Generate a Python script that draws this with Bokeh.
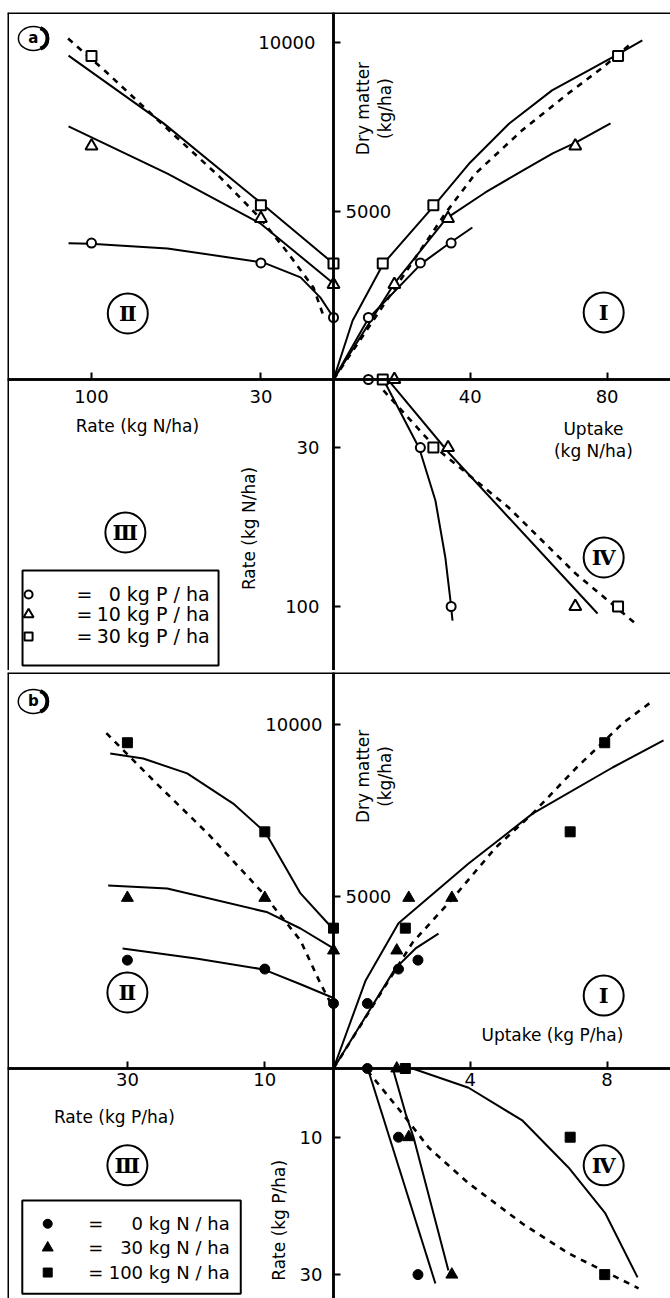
import math
from bokeh.plotting import figure
from bokeh.models import Range1d, LinearAxis, FixedTicker, Span
from bokeh.layouts import column
from bokeh.core.properties import value
from bokeh.embed import file_html
from bokeh.resources import INLINE

FONT = "DejaVu Sans"
SERIF = "DejaVu Serif"

# ---------------- (a) nitrogen rates, three P levels ----------------
N_RATE = [0, 30, 100]
A_DM_P0 = [1840, 3460, 4050]
A_DM_P10 = [2820, 4780, 6930]
A_DM_P30 = [3440, 5170, 9600]
A_UPT_P0 = [10.2, 25.4, 34.4]
A_UPT_P10 = [17.8, 33.5, 70.7]
A_UPT_P30 = [14.4, 29.2, 83.2]

# fitted response curves, quadrant II (rate -> dry matter)
A_II_P0_RATE = [0, 5.4, 13.6, 28.9, 68.6, 100.4, 109.5]
A_II_P0_DM = [1840, 2430, 3030, 3470, 3890, 4030, 4040]
A_II_P10_RATE = [0, 30.2, 68.6, 109.5]
A_II_P10_DM = [2850, 4630, 6110, 7510]
A_II_P30_RATE = [0, 30.2, 70.2, 109.5]
A_II_P30_DM = [3440, 5250, 7600, 9610]
A_II_ALL_RATE = [4.5, 8.3, 19.0, 30.2, 46.7, 70.2, 94.6, 110.7]
A_II_ALL_DM = [1960, 2730, 3770, 4780, 5990, 7540, 9170, 10180]

# quadrant I (uptake -> dry matter)
A_I_P0_UPT = [0, 10.2, 25.7, 34.2, 40.6]
A_I_P0_DM = [0, 1810, 3440, 4065, 4510]
A_I_P10_UPT = [0, 17.8, 33.0, 44.4, 55.3, 64.1, 70.8, 81.0]
A_I_P10_DM = [0, 2850, 4780, 5550, 6200, 6710, 7030, 7600]
A_I_P30_UPT = [0, 5.6, 14.6, 28.9, 39.6, 51.3, 63.9, 74.6, 83.0, 90.3]
A_I_P30_DM = [0, 1750, 3440, 5100, 6400, 7590, 8580, 9170, 9640, 10060]
A_I_ALL_UPT = [0, 24.0, 32.7, 41.5, 55.2, 68.8, 78.6, 86.8]
A_I_ALL_DM = [0, 3620, 4930, 6110, 7400, 8500, 9250, 9950]

# quadrant IV (uptake -> rate)
A_IV_P0_UPT = [15.2, 25.1, 29.8, 32.7, 34.2, 34.8]
A_IV_P0_RATE = [1.8, 30.4, 53.3, 78.4, 97.4, 106.2]
A_IV_P10_UPT = [16.1, 33.9, 77.2]
A_IV_P10_RATE = [0.4, 32.6, 103.1]
A_IV_ALL_UPT = [14.6, 29.8, 51.2, 70.8, 88.3]
A_IV_ALL_RATE = [4.8, 30.0, 56.4, 85.5, 107.5]

A_LEGEND = ["0 kg P / ha", "10 kg P / ha", "30 kg P / ha"]

# ---------------- (b) phosphorus rates, three N levels ----------------
P_RATE = [0, 10, 30]
B_DM_N0 = [1890, 2890, 3150]
B_DM_N30 = [3430, 4960, 4960]
B_DM_N100 = [4080, 6880, 9470]
B_UPT_N0 = [0.99, 1.9, 2.47]
B_UPT_N30 = [1.85, 2.2, 3.46]
B_UPT_N100 = [2.1, 6.92, 7.93]

B_II_N0_RATE = [0, 4.8, 10.2, 20.0, 30.7]
B_II_N0_DM = [2050, 2450, 2880, 3200, 3490]
B_II_N30_RATE = [0, 4.8, 9.6, 24.2, 32.8]
B_II_N30_DM = [3490, 4070, 4540, 5230, 5320]
B_II_N100_RATE = [0, 4.8, 9.9, 14.6, 21.3, 27.7, 32.5]
B_II_N100_DM = [4040, 5090, 6860, 7700, 8580, 9010, 9160]
B_II_ALL_RATE = [0.4, 1.9, 4.8, 10.6, 18.3, 26.2, 33.6]
B_II_ALL_DM = [1900, 2470, 3720, 5170, 6830, 8370, 9860]

B_I_LOW_UPT = [0, 1.81, 2.40, 3.07]
B_I_LOW_DM = [0, 2910, 3490, 3920]
B_I_N100_UPT = [0, 0.94, 1.90, 3.95, 5.82, 8.16, 9.65]
B_I_N100_DM = [0, 2560, 4220, 5960, 7410, 8750, 9540]
B_I_ALL_UPT = [0, 2.31, 3.48, 4.74, 5.82, 7.08, 8.45, 9.27]
B_I_ALL_DM = [0, 3660, 4940, 6420, 7410, 8720, 10030, 10640]

B_IV_N0_UPT = [1.02, 2.98]
B_IV_N0_RATE = [0.3, 31.3]
B_IV_N30_UPT = [1.75, 2.11, 2.34, 3.36]
B_IV_N30_RATE = [0.3, 6.6, 10.0, 29.4]
B_IV_N100_UPT = [2.31, 3.95, 5.53, 6.87, 7.95, 8.89]
B_IV_N100_RATE = [0, 2.8, 7.6, 14.4, 21.1, 30.4]
B_IV_ALL_UPT = [0.99, 2.02, 2.78, 3.95, 5.53, 6.87, 8.92]
B_IV_ALL_RATE = [0.3, 6.6, 11.5, 16.7, 22.6, 26.9, 32.0]

B_LEGEND = ["0 kg N / ha", "30 kg N / ha", "100 kg N / ha"]


def make_panel(height, top, bottom, ox, oy, upt_px, dm_px, rx_px, ry_px):
    """Four-quadrant frame: uptake (x) / dry matter (y) share the origin
    with rate (x, reversed) and rate (y, downward)."""
    left, right = 7, 670
    p = figure(width=670, height=height, output_backend="svg", toolbar_location=None,
               x_axis_type=None, y_axis_type=None,
               x_range=Range1d((left - ox) / upt_px, (right - ox) / upt_px),
               y_range=Range1d((oy - bottom) / dm_px, (oy - top) / dm_px),
               min_border_left=left, min_border_right=0,
               min_border_top=top, min_border_bottom=height - bottom)
    p.extra_x_ranges = {"rate": Range1d((ox - left) / rx_px, (ox - right) / rx_px)}
    p.extra_y_ranges = {"ratey": Range1d((bottom - oy) / ry_px, (top - oy) / ry_px)}
    p.title.visible = False
    p.outline_line_color = None
    p.background_fill_color = "white"
    p.border_fill_color = "white"
    return p


def axes(p, rate_ticks, upt_ticks, dm_left, dm_right, ratey_ticks, x_standoff, dm_standoff, ry_standoff):
    common = dict(fixed_location=0, axis_line_width=2.5, axis_line_color="black",
                  major_tick_line_width=2, major_tick_line_color="black",
                  minor_tick_in=0, minor_tick_out=0,
                  major_label_text_font=FONT, major_label_text_font_size="18px",
                  major_label_text_color="black")
    p.add_layout(LinearAxis(x_range_name="rate", ticker=FixedTicker(ticks=rate_ticks),
                            major_tick_in=7, major_tick_out=0,
                            major_label_standoff=x_standoff, **common), "below")
    p.add_layout(LinearAxis(ticker=FixedTicker(ticks=upt_ticks),
                            major_tick_in=7, major_tick_out=0,
                            major_label_standoff=x_standoff, **common), "below")
    p.add_layout(LinearAxis(ticker=FixedTicker(ticks=dm_left),
                            major_tick_in=7, major_tick_out=0,
                            major_label_standoff=dm_standoff, **common), "left")
    right_kw = dict(common)
    right_kw["axis_line_color"] = None
    p.add_layout(LinearAxis(ticker=FixedTicker(ticks=dm_right),
                            major_tick_in=0, major_tick_out=7,
                            major_label_standoff=5, **right_kw), "right")
    p.add_layout(LinearAxis(y_range_name="ratey", ticker=FixedTicker(ticks=ratey_ticks),
                            major_tick_in=7, major_tick_out=0,
                            major_label_standoff=ry_standoff, **common), "left")


def borders(p):
    xr = p.extra_x_ranges["rate"]
    p.add_layout(Span(location=xr.start, dimension="height", x_range_name="rate",
                      line_color="black", line_width=3))
    p.add_layout(Span(location=p.y_range.end, dimension="width",
                      line_color="black", line_width=3))


def curve(p, xs, ys, xr, yr, dashed=False):
    if dashed:
        p.line(xs, ys, x_range_name=xr, y_range_name=yr, line_color="black",
               line_width=2.6, line_dash="6 6")
    else:
        p.line(xs, ys, x_range_name=xr, y_range_name=yr, line_color="black", line_width=2)


def marks(p, xs, ys, xr, yr, marker, size, filled):
    p.scatter(xs, ys, x_range_name=xr, y_range_name=yr, marker=marker, size=size,
              line_color="black", line_width=1 if filled else 2,
              fill_color="black" if filled else "white")


def quadrant_tag(p, x, y, txt, xr, yr):
    p.scatter([x], [y], x_range_name=xr, y_range_name=yr, marker="circle", size=40,
              fill_color=None, line_color="black", line_width=2)
    p.text([x], [y], text=[txt], x_range_name=xr, y_range_name=yr,
           text_font=value(SERIF), text_font_size="21px", text_font_style="bold",
           text_align="center", text_baseline="middle", text_color="black")


def label(p, x, y, txt, xr, yr, size="17px", angle=0.0, align="center"):
    p.text([x], [y], text=[txt], x_range_name=xr, y_range_name=yr,
           text_font=value(FONT), text_font_size=size, angle=angle,
           text_align=align, text_baseline="middle", text_color="black")


def panel_letter(p, x, y, dx, txt):
    p.ellipse([x], [y], width=30, height=24, width_units="screen", height_units="screen",
              x_range_name="rate", fill_color=None, line_color="black", line_width=1.5)
    p.arc([x - dx], [y], radius=11, radius_units="screen", start_angle=-1.2, end_angle=1.2,
          x_range_name="rate", line_color="black", line_width=4)
    p.text([x], [y], text=[txt], x_range_name="rate", text_font=value(FONT),
           text_font_size="15px", text_font_style="bold", text_align="center",
           text_baseline="middle", text_color="black")


def legend_box(p, box, mark_x, eq_x, text_right, rows, markers, sizes, texts, filled, fs):
    """Key in quadrant III: marker, '=' sign, right-aligned level."""
    l, r, t, b = box
    p.quad(left=[l], right=[r], top=[t], bottom=[b], x_range_name="rate", y_range_name="ratey",
           fill_color="white", line_color="black", line_width=2)
    for row, mk, sz, txt in zip(rows, markers, sizes, texts):
        marks(p, [mark_x], [row], "rate", "ratey", mk, sz, filled)
        label(p, eq_x, row, "=", "rate", "ratey", size=fs, align="left")
        label(p, text_right, row, txt, "rate", "ratey", size=fs, align="right")


# ======================= panel (a) =======================
pa = make_panel(670, 12, 670, 333, 379, 3.42, 0.0337, 2.42, 2.27)
borders(pa)
axes(pa, [30, 100], [40, 80], [10000], [5000], [30, 100], 10, 18, 14)

D, R, RY = "default", "rate", "ratey"
# quadrant II
curve(pa, A_II_P0_RATE, A_II_P0_DM, R, D)
curve(pa, A_II_P10_RATE, A_II_P10_DM, R, D)
curve(pa, A_II_P30_RATE, A_II_P30_DM, R, D)
curve(pa, A_II_ALL_RATE, A_II_ALL_DM, R, D, dashed=True)
# quadrant I
curve(pa, A_I_P0_UPT, A_I_P0_DM, D, D)
curve(pa, A_I_P10_UPT, A_I_P10_DM, D, D)
curve(pa, A_I_P30_UPT, A_I_P30_DM, D, D)
curve(pa, A_I_ALL_UPT, A_I_ALL_DM, D, D, dashed=True)
# quadrant IV
curve(pa, A_IV_P0_UPT, A_IV_P0_RATE, D, RY)
curve(pa, A_IV_P10_UPT, A_IV_P10_RATE, D, RY)
curve(pa, A_IV_ALL_UPT, A_IV_ALL_RATE, D, RY, dashed=True)

for dm, upt, mk, sz in [(A_DM_P0, A_UPT_P0, "circle", 9),
                        (A_DM_P10, A_UPT_P10, "triangle", 12),
                        (A_DM_P30, A_UPT_P30, "square", 10)]:
    marks(pa, N_RATE, dm, R, D, mk, sz, False)
    marks(pa, upt, dm, D, D, mk, sz, False)
    marks(pa, upt, N_RATE, D, RY, mk, sz, False)

quadrant_tag(pa, 79, 1990, "Ⅰ", D, D)
quadrant_tag(pa, 85, 1960, "Ⅱ", R, D)
quadrant_tag(pa, 86, 67.4, "Ⅲ", R, RY)
quadrant_tag(pa, 79, 78.4, "Ⅳ", D, RY)
panel_letter(pa, 124, 10120, 1.24, "a")

label(pa, 81, 20.3, "Rate (kg N/ha)", R, RY)
label(pa, 35.1, 65.6, "Rate (kg N/ha)", R, RY, angle=math.pi / 2)
label(pa, 8.5, 8040, "Dry matter", D, D, angle=math.pi / 2)
label(pa, 15.2, 8040, "(kg/ha)", D, D, angle=math.pi / 2)
label(pa, 76, 22, "Uptake", D, RY)
label(pa, 76, 31.3, "(kg N/ha)", D, RY)

legend_box(pa, (128.5, 47.5, 84.1, 126.0), 126, 106.2, 51.2,
           [94.7, 103.5, 113.2], ["circle", "triangle", "square"], [8, 10, 8], A_LEGEND, False,
           "19px")

# ======================= panel (b) =======================
pb = make_panel(628, 2, 628, 333, 398, 34.2, 0.0344, 6.87, 6.87)
borders(pb)
axes(pb, [10, 30], [4, 8], [10000], [5000], [10, 30], 4, 11, 11)

curve(pb, B_II_N0_RATE, B_II_N0_DM, R, D)
curve(pb, B_II_N30_RATE, B_II_N30_DM, R, D)
curve(pb, B_II_N100_RATE, B_II_N100_DM, R, D)
curve(pb, B_II_ALL_RATE, B_II_ALL_DM, R, D, dashed=True)
curve(pb, B_I_LOW_UPT, B_I_LOW_DM, D, D)
curve(pb, B_I_N100_UPT, B_I_N100_DM, D, D)
curve(pb, B_I_ALL_UPT, B_I_ALL_DM, D, D, dashed=True)
curve(pb, B_IV_N0_UPT, B_IV_N0_RATE, D, RY)
curve(pb, B_IV_N30_UPT, B_IV_N30_RATE, D, RY)
curve(pb, B_IV_N100_UPT, B_IV_N100_RATE, D, RY)
curve(pb, B_IV_ALL_UPT, B_IV_ALL_RATE, D, RY, dashed=True)

for dm, upt, mk, sz in [(B_DM_N0, B_UPT_N0, "circle", 10),
                        (B_DM_N30, B_UPT_N30, "triangle", 12),
                        (B_DM_N100, B_UPT_N100, "square", 10)]:
    marks(pb, P_RATE, dm, R, D, mk, sz, True)
    marks(pb, upt, dm, D, D, mk, sz, True)
    marks(pb, upt, P_RATE, D, RY, mk, sz, True)

quadrant_tag(pb, 7.9, 2120, "Ⅰ", D, D)
quadrant_tag(pb, 30, 2210, "Ⅱ", R, D)
quadrant_tag(pb, 30, 14.1, "Ⅲ", R, RY)
quadrant_tag(pb, 7.9, 14.1, "Ⅳ", D, RY)
panel_letter(pb, 43.7, 10670, 0.44, "b")

label(pb, 31.9, 7.1, "Rate (kg P/ha)", R, RY)
label(pb, 8.0, 22.1, "Rate (kg P/ha)", R, RY, angle=math.pi / 2)
label(pb, 0.85, 8490, "Dry matter", D, D, angle=math.pi / 2)
label(pb, 1.52, 8490, "(kg/ha)", D, D, angle=math.pi / 2)
label(pb, 6.4, 960, "Uptake (kg P/ha)", D, D)

legend_box(pb, (45.3, 13.5, 19.2, 32.8), 41.6, 35.7, 15.1,
           [22.6, 26.1, 29.7], ["circle", "triangle", "square"], [9, 11, 9], B_LEGEND, True,
           "18px")

layout = column(pa, pb, spacing=0)
open("out.html", "w").write(file_html(layout, INLINE))
